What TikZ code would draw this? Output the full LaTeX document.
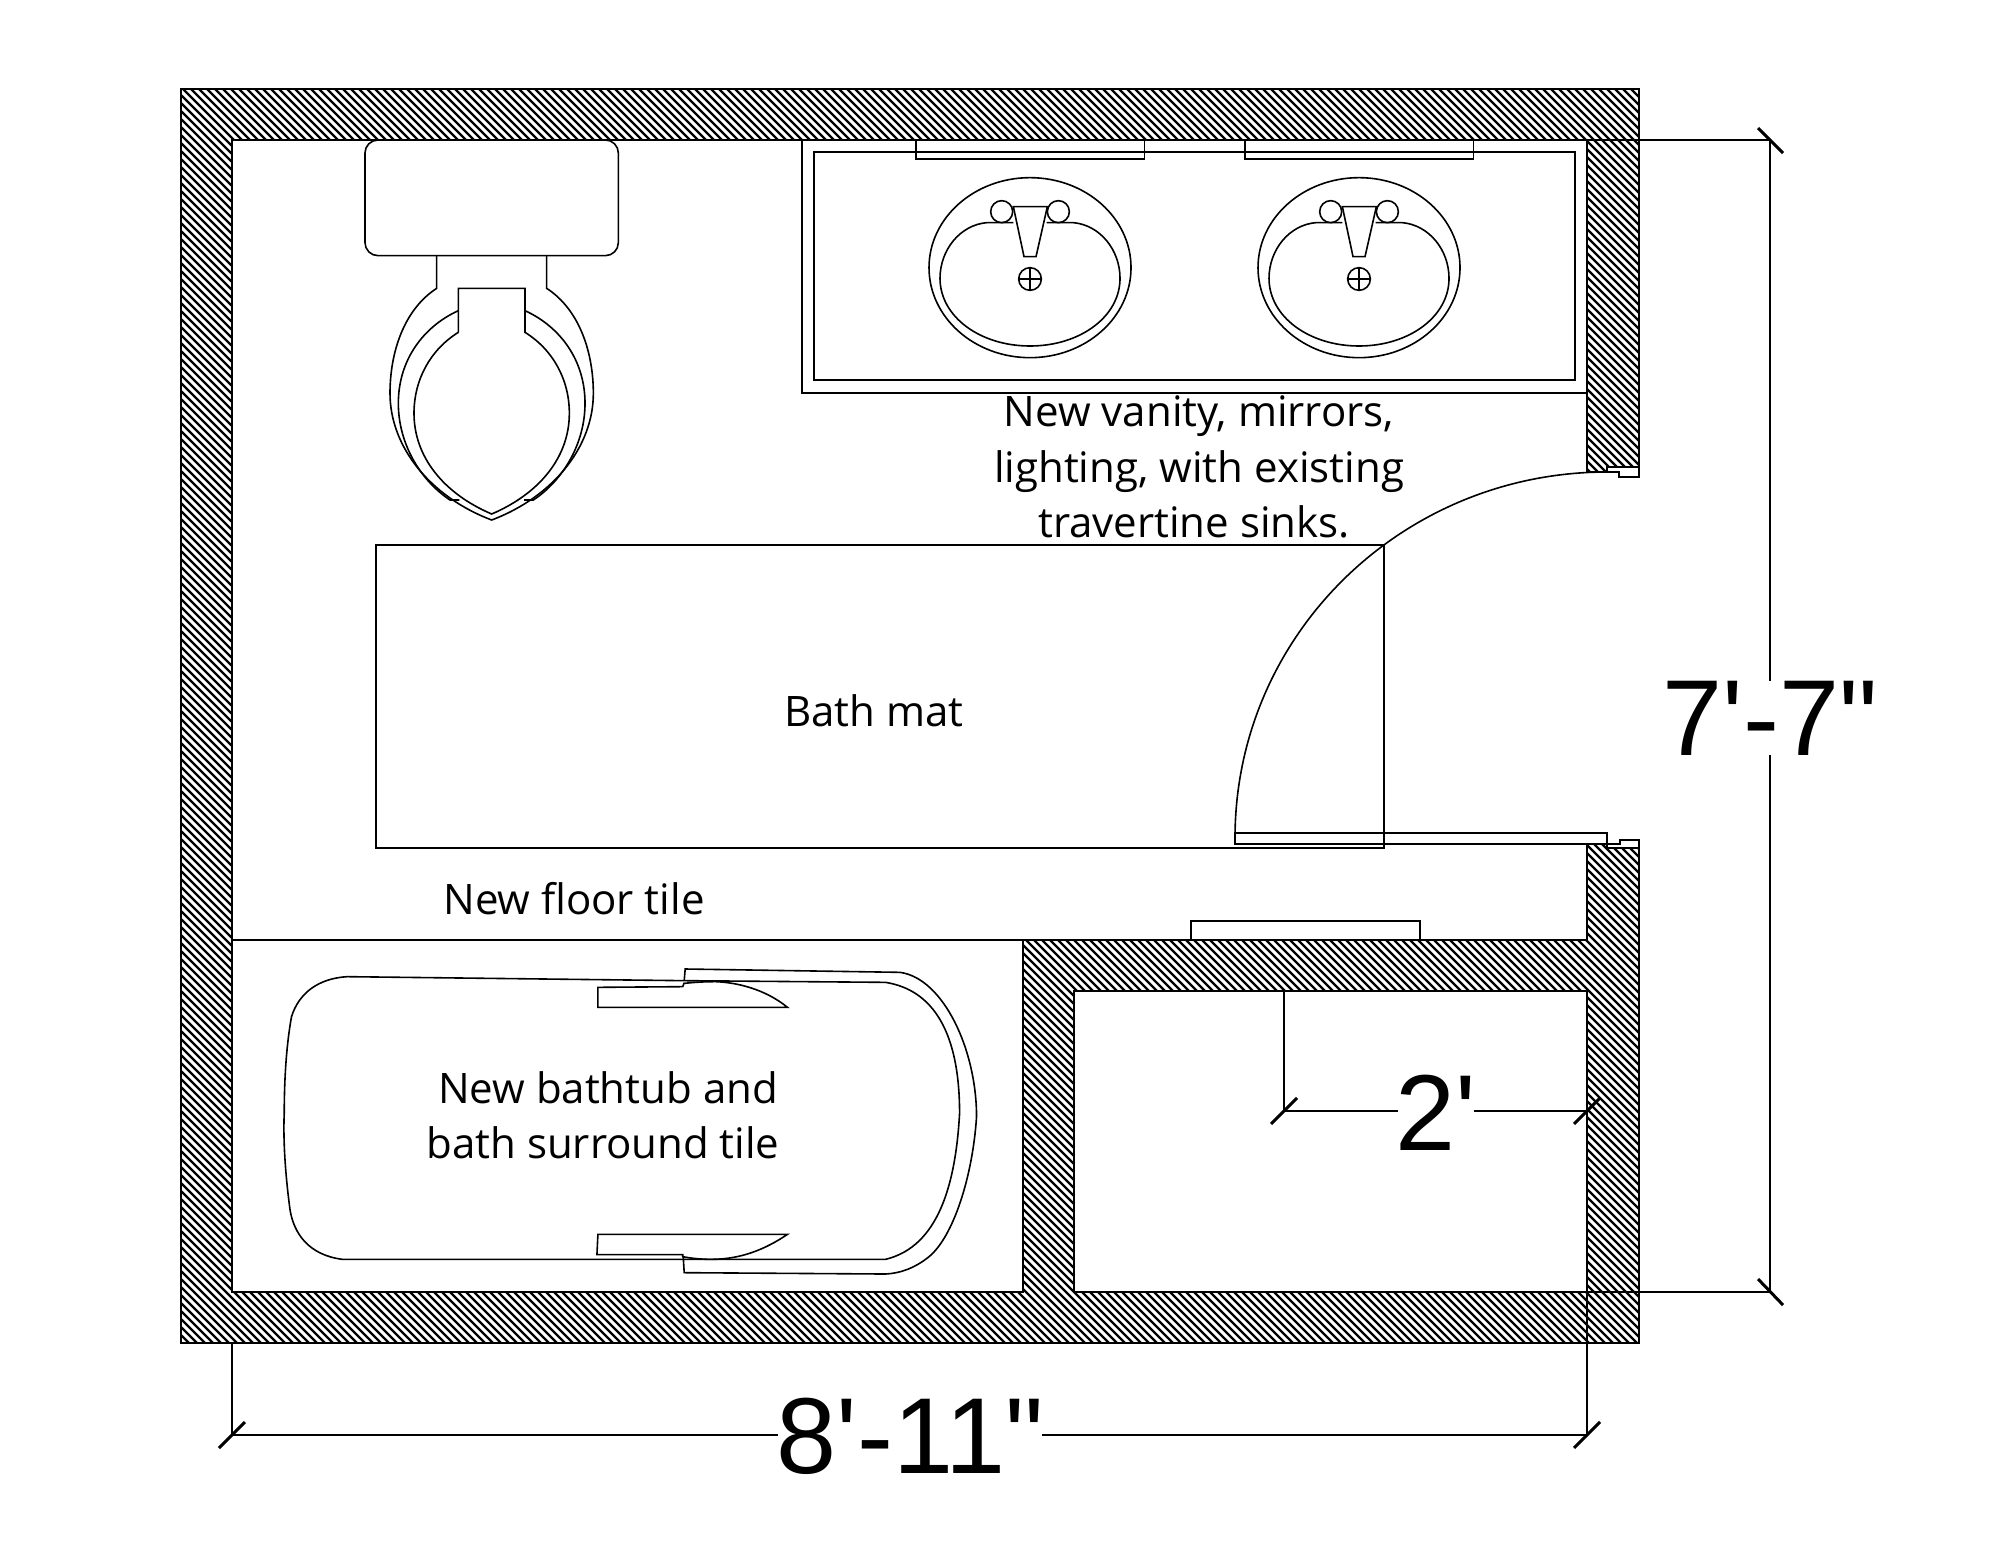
\documentclass[tikz,border=0pt]{standalone}
\usepackage{fontspec}
\newfontfamily\labelfont{Open Sans}
\newfontfamily\dimfont{Liberation Sans}
\tikzset{
  thinline/.style={draw=black,line width=0.8pt,line join=miter},
  wallline/.style={draw=black,line width=1.3pt,line join=miter},
  hatchline/.style={draw=black,line width=1.15pt},
  dimline/.style={draw=black,line width=0.8pt},
  ticks/.style={draw=black,line width=1.5pt},
  lab/.style={anchor=base,inner sep=0pt,font=\labelfont\fontsize{21}{25}\selectfont},
  dimtext/.style={anchor=base,fill=white,inner xsep=-1pt,inner ysep=0pt,font=\dimfont\fontsize{54}{60}\selectfont}
}
\newcommand{\wallpath}{(1587,472) -- (1587,140) -- (232,140) -- (232,1292) -- (1023,1292) -- (1023,940) -- (1587,940) -- (1587,844) -- (1607,844) -- (1607,848) -- (1639,848) -- (1639,1343) -- (181,1343) -- (181,89) -- (1639,89) -- (1639,467) -- (1607,467) -- (1607,472) -- cycle (1074,991) -- (1074,1292) -- (1587,1292) -- (1587,991) -- cycle}
\newcommand{\drawsink}[1]{%
  \begin{scope}[shift={(#1,120)},x=0.16667pt,y=-0.16667pt]
    \draw[thinline] (348,60) -- (348,117) -- (1033,117) -- (1033,60);
    \draw[thinline] (690,443) ellipse[x radius=303,y radius=270];
    \draw[thinline] (640,308) -- (560,308) .. controls (480,315) and (420,390) .. (420,475) .. controls (420,590) and (540,678) .. (690,678) .. controls (840,678) and (960,590) .. (960,475) .. controls (960,390) and (900,315) .. (820,308) -- (740,308);
    \draw[thinline] (605,275) circle[radius=33];
    \draw[thinline] (775,275) circle[radius=33];
    \draw[thinline,fill=white] (640,260) -- (742,260) -- (708,410) -- (672,410) -- cycle;
    \draw[thinline] (690,477) circle[radius=34];
    \draw[thinline] (656,477) -- (724,477) (690,443) -- (690,511);
  \end{scope}}
\begin{document}
\begin{tikzpicture}[x=0.5pt,y=-0.5pt]
\useasboundingbox (0,0) rectangle (2000,1545);
\fill[white] (0,0) rectangle (2000,1545);
% hatch
\begin{scope}
  \clip \wallpath;
  \foreach \c in {-1170,-1162,...,1640} {
    \draw[hatchline] (\c,0) -- ({\c+1400},1400);
  }
\end{scope}
\draw[wallline] \wallpath;
% door frame
\draw[thinline] (1607,472) -- (1619,472) -- (1619,477) -- (1639,477) -- (1639,467);
\draw[thinline] (1235,833) rectangle (1607,844);
\draw[thinline] (1607,844) -- (1620,844) -- (1620,840) -- (1639,840) -- (1639,848);
\draw[thinline] (1235,838) .. controls (1235,635) and (1402,472) .. (1607,472);
% floor tile line
\draw[thinline] (232,940) -- (1023,940);
% bath mat
\draw[thinline] (376,545) rectangle (1384,848);
% shelf
\draw[thinline] (1191,940) -- (1191,921) -- (1420,921) -- (1420,940);
% vanity
\draw[thinline] (802,140) -- (802,393) -- (1587,393);
\draw[thinline] (814,152) rectangle (1575,380);
\drawsink{800}
\drawsink{1129}
% toilet
\begin{scope}[shift={(340,120)},x=0.16667pt,y=-0.16667pt]
  \draw[thinline,rounded corners=6.5pt] (75,60) rectangle (835,407);
  \draw[thinline] (290,407) -- (290,505) .. controls (190,570) and (150,700) .. (150,820) .. controls (150,980) and (270,1130) .. (455,1200) .. controls (640,1130) and (760,980) .. (760,820) .. controls (760,700) and (720,570) .. (620,505) -- (620,407);
  \draw[thinline] (355,572) .. controls (250,620) and (175,720) .. (175,850) .. controls (175,970) and (240,1080) .. (330,1140) -- (358,1140);
  \draw[thinline] (555,572) .. controls (660,620) and (735,720) .. (735,850) .. controls (735,970) and (670,1080) .. (580,1140) -- (552,1140);
  \draw[thinline] (355,637) -- (355,505) -- (555,505) -- (555,637) .. controls (640,690) and (688,780) .. (688,880) .. controls (688,1010) and (600,1120) .. (455,1182) .. controls (310,1120) and (222,1010) .. (222,880) .. controls (222,780) and (270,690) .. (355,637);
\end{scope}
% bathtub
\begin{scope}[shift={(260,950)},x=0.2424pt,y=-0.16667pt]
  \draw[thinline] (180,80) -- (875,92) -- (1290,97) .. controls (1390,120) and (1443,250) .. (1443,490) .. controls (1435,700) and (1400,890) .. (1290,928) -- (170,928) .. controls (100,915) and (70,850) .. (62,780) .. controls (50,650) and (48,550) .. (50,490) .. controls (50,380) and (55,280) .. (65,200) .. controls (80,130) and (120,85) .. (180,80);
  \draw[thinline] (875,92) -- (877,57) -- (1320,67) .. controls (1410,85) and (1478,300) .. (1478,500) .. controls (1470,680) and (1430,860) .. (1380,920) .. controls (1350,955) and (1320,970) .. (1290,972) -- (875,968) -- (873,920);
  \draw[thinline] (875,98) -- (872,110) -- (697,112) -- (697,172) -- (1088,172) .. controls (1040,115) and (980,97) .. (940,95) .. controls (910,95) and (890,98) .. (875,100);
  \draw[thinline] (697,853) -- (1088,853) .. controls (1040,900) and (990,928) .. (930,928) .. controls (910,928) and (890,925) .. (872,920) -- (872,914) -- (695,914) -- cycle;
\end{scope}
% dimensions
\coordinate (vtop) at (1770,140);
\coordinate (vbot) at (1770,1292);
\coordinate (hl) at (232,1435);
\coordinate (hr) at (1587,1435);
\coordinate (sl) at (1284,1111);
\coordinate (sr) at (1587,1111);
\draw[dimline] (1587,140) -- (vtop) -- (vbot) -- (1587,1292);
\draw[dimline] (232,1343) -- (hl) -- (hr) -- (1587,1292);
\draw[dimline] (1284,991) -- (sl) -- (sr);
\draw[ticks] (1758,128) -- (1783,153) (1758,1279) -- (1783,1305);
\draw[ticks] (219,1448) -- (245,1422) (1574,1448) -- (1600,1422);
\draw[ticks] (1271,1124) -- (1297,1098) (1574,1124) -- (1600,1098);
\node[dimtext] (dimv) at (1770,755) {7\symbol{39}-7\symbol{34}};
\node[dimtext] (dimh) at (910,1473) {8\symbol{39}-11\symbol{34}};
\node[dimtext] (dims) at (1436,1150) {2\symbol{39}};
% labels
\node[lab] (v1) at (1199,427) {New vanity, mirrors,};
\node[lab] (v2) at (1199,482) {lighting, with existing};
\node[lab] (v3) at (1194,537) {travertine sinks.};
\node[lab] (mat) at (874,726) {Bath mat};
\node[lab] (fl) at (574,914) {New floor tile};
\node[lab] (t1) at (608,1103) {New bathtub and};
\node[lab] (t2) at (603,1158) {bath surround tile};
\end{tikzpicture}
\end{document}
